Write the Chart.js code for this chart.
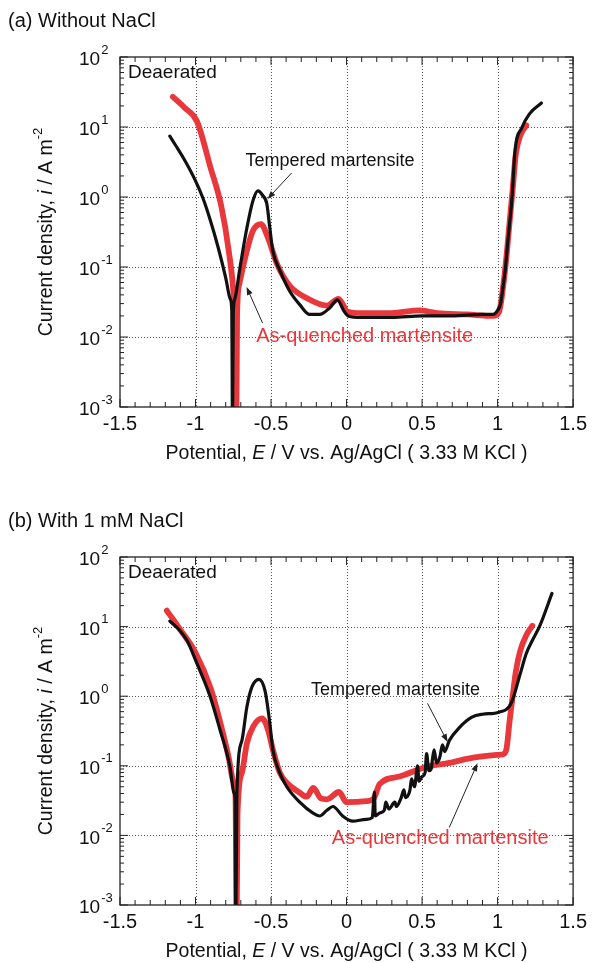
<!DOCTYPE html>
<html>
<head>
<meta charset="utf-8">
<script src="https://cdn.jsdelivr.net/npm/chart.js@4.4.1/dist/chart.umd.min.js"></script>
<style>
  html, body { margin: 0; padding: 0; background: #fff; }
  canvas { display: block; }
</style>
</head>
<body>
<canvas id="chartA" width="592" height="480"></canvas>
<canvas id="chartB" width="592" height="483"></canvas>
<script>
// axis ticks
const xTicks = [-1.5, -1, -0.5, 0, 0.5, 1, 1.5];
const yExponents = [-3, -2, -1, 0, 1, 2];

// (a) without NaCl - tempered martensite (black)
const aTemperedE = [-1.17, -1.13, -1.08, -1.00, -0.95, -0.90, -0.85, -0.80, -0.77, -0.76, -0.755, -0.75, -0.74, -0.706, -0.66, -0.62, -0.587, -0.555, -0.528, -0.508, -0.488, -0.44, -0.376, -0.31, -0.244, -0.178, -0.112, -0.06, -0.02, 0.01, 0.1, 0.3, 0.5, 0.7, 0.9, 0.97, 1.0, 1.02, 1.04, 1.05, 1.07, 1.096, 1.115, 1.16, 1.21, 1.29];
const aTemperedI = [7.4, 5.4, 3.6, 1.7, 0.95, 0.45, 0.19, 0.07, 0.035, 0.024, 0.0005, 0.022, 0.035, 0.097, 0.36, 0.88, 1.22, 1.05, 0.8, 0.36, 0.17, 0.088, 0.045, 0.029, 0.021, 0.021, 0.026, 0.034, 0.024, 0.02, 0.019, 0.019, 0.02, 0.02, 0.021, 0.021, 0.024, 0.03, 0.06, 0.088, 0.26, 1.0, 4.5, 9.7, 15.3, 22];

// (a) without NaCl - as-quenched martensite (red)
const aQuenchedE = [-1.15, -1.07, -0.99, -0.90, -0.83, -0.78, -0.745, -0.735, -0.73, -0.725, -0.71, -0.66, -0.62, -0.567, -0.52, -0.46, -0.376, -0.264, -0.13, -0.053, 0.007, 0.1, 0.3, 0.48, 0.6, 0.8, 0.97, 1.01, 1.04, 1.06, 1.08, 1.10, 1.12, 1.15, 1.19];
const aQuenchedI = [27, 18.7, 12, 2.6, 0.75, 0.17, 0.033, 0.01, 0.0005, 0.02, 0.057, 0.17, 0.33, 0.41, 0.26, 0.11, 0.054, 0.036, 0.028, 0.035, 0.023, 0.022, 0.022, 0.024, 0.022, 0.021, 0.02, 0.023, 0.06, 0.15, 0.45, 1.3, 4.0, 7.5, 10.6];

// (b) with 1 mM NaCl - tempered martensite (black)
const bTemperedE = [-1.17, -1.10, -1.056, -1.00, -0.904, -0.838, -0.772, -0.746, -0.738, -0.733, -0.726, -0.693, -0.66, -0.627, -0.58, -0.54, -0.508, -0.488, -0.442, -0.396, -0.31, -0.224, -0.178, -0.13, -0.09, -0.026, 0.04, 0.13, 0.17, 0.185, 0.19, 0.22, 0.25, 0.26, 0.28, 0.32, 0.33, 0.36, 0.38, 0.39, 0.42, 0.43, 0.45, 0.47, 0.48, 0.5, 0.52, 0.53, 0.545, 0.56, 0.57, 0.58, 0.595, 0.61, 0.62, 0.635, 0.65, 0.68, 0.75, 0.83, 0.9, 1.01, 1.09, 1.15, 1.19, 1.23, 1.28, 1.36];
const bTemperedI = [12, 8.6, 6.3, 3.3, 1.0, 0.33, 0.097, 0.041, 0.033, 0.0005, 0.04, 0.23, 0.7, 1.35, 1.75, 1.2, 0.41, 0.17, 0.079, 0.05, 0.03, 0.021, 0.019, 0.023, 0.026, 0.019, 0.016, 0.017, 0.018, 0.042, 0.019, 0.021, 0.023, 0.03, 0.024, 0.03, 0.026, 0.034, 0.045, 0.035, 0.045, 0.065, 0.05, 0.1, 0.06, 0.07, 0.08, 0.15, 0.085, 0.09, 0.13, 0.17, 0.11, 0.12, 0.14, 0.2, 0.16, 0.23, 0.36, 0.5, 0.55, 0.59, 0.79, 2.1, 4.1, 6.3, 10.3, 30];

// (b) with 1 mM NaCl - as-quenched martensite (red)
const bQuenchedE = [-1.19, -1.10, -1.00, -0.90, -0.84, -0.78, -0.75, -0.735, -0.728, -0.722, -0.693, -0.66, -0.62, -0.56, -0.52, -0.488, -0.442, -0.396, -0.31, -0.264, -0.22, -0.17, -0.13, -0.05, 0.0, 0.13, 0.18, 0.22, 0.35, 0.53, 0.68, 0.83, 1.01, 1.045, 1.06, 1.08, 1.10, 1.12, 1.15, 1.19, 1.23];
const bQuenchedI = [17, 9, 4.2, 1.3, 0.45, 0.13, 0.06, 0.035, 0.0005, 0.02, 0.079, 0.21, 0.36, 0.48, 0.33, 0.17, 0.08, 0.057, 0.041, 0.036, 0.048, 0.034, 0.033, 0.042, 0.03, 0.031, 0.034, 0.055, 0.07, 0.097, 0.11, 0.13, 0.144, 0.15, 0.18, 0.45, 1.0, 2.2, 4.5, 7.5, 10.3];

const FONT = '"Liberation Sans", Arial, sans-serif';
const BLACK = '#111111';
const RED = '#e8383c';
Chart.defaults.font.family = FONT;

function toPoints(es, is) {
  return es.map((e, k) => ({ x: e, y: is[k] }));
}

function drawRich(ctx, parts, x, y, size) {
  const fontOf = p => (p.italic ? 'italic ' : '') + (p.sup ? Math.round(size * 0.65) : size) + 'px ' + FONT;
  const widths = parts.map(p => { ctx.font = fontOf(p); return ctx.measureText(p.t).width; });
  let cx = x - widths.reduce((s, w) => s + w, 0) / 2;
  parts.forEach((p, k) => {
    ctx.font = fontOf(p);
    ctx.fillText(p.t, cx, p.sup ? y - size * 0.45 : y);
    cx += widths[k];
  });
}

function drawArrow(ctx, x0, y0, x1, y1) {
  const ang = Math.atan2(y1 - y0, x1 - x0);
  ctx.beginPath();
  ctx.moveTo(x0, y0);
  ctx.lineTo(x1 - 6 * Math.cos(ang), y1 - 6 * Math.sin(ang));
  ctx.stroke();
  ctx.beginPath();
  ctx.moveTo(x1, y1);
  ctx.lineTo(x1 - 8 * Math.cos(ang) + 3 * Math.sin(ang), y1 - 8 * Math.sin(ang) - 3 * Math.cos(ang));
  ctx.lineTo(x1 - 8 * Math.cos(ang) - 3 * Math.sin(ang), y1 - 8 * Math.sin(ang) + 3 * Math.cos(ang));
  ctx.closePath();
  ctx.fill();
}

const panelPlugin = {
  id: 'panel',
  beforeDatasetsDraw(chart) {
    const { ctx, chartArea: a, scales: { x, y } } = chart;
    ctx.save();
    ctx.strokeStyle = '#555';
    ctx.lineWidth = 1;
    ctx.setLineDash([1, 2]);
    xTicks.slice(1, -1).forEach(v => {
      const px = Math.round(x.getPixelForValue(v)) + 0.5;
      ctx.beginPath(); ctx.moveTo(px, a.top); ctx.lineTo(px, a.bottom); ctx.stroke();
    });
    yExponents.slice(1, -1).forEach(e => {
      const py = Math.round(y.getPixelForValue(Math.pow(10, e))) + 0.5;
      ctx.beginPath(); ctx.moveTo(a.left, py); ctx.lineTo(a.right, py); ctx.stroke();
    });
    ctx.restore();
  },
  afterDatasetsDraw(chart, args, opts) {
    const { ctx, chartArea: a, scales: { x, y } } = chart;
    ctx.save();
    // frame
    ctx.strokeStyle = '#222';
    ctx.lineWidth = 1.3;
    ctx.strokeRect(a.left, a.top, a.right - a.left, a.bottom - a.top);
    // inward ticks
    ctx.lineWidth = 1;
    ctx.beginPath();
    for (let k = -15; k <= 15; k++) {
      const px = x.getPixelForValue(k / 10);
      const len = k % 5 === 0 ? 8 : 5;
      ctx.moveTo(px, a.bottom); ctx.lineTo(px, a.bottom - len);
      ctx.moveTo(px, a.top); ctx.lineTo(px, a.top + len);
    }
    for (let e = -3; e <= 2; e++) {
      for (let m = 1; m <= (e === 2 ? 1 : 9); m++) {
        const py = y.getPixelForValue(m * Math.pow(10, e));
        const len = m === 1 ? 8 : 4;
        ctx.moveTo(a.left, py); ctx.lineTo(a.left + len, py);
        ctx.moveTo(a.right, py); ctx.lineTo(a.right - len, py);
      }
    }
    ctx.stroke();

    ctx.fillStyle = '#111';
    ctx.textBaseline = 'middle';
    // y tick labels 10^n
    yExponents.forEach(e => {
      const py = y.getPixelForValue(Math.pow(10, e));
      ctx.font = '19px ' + FONT;
      ctx.textAlign = 'left';
      ctx.fillText('10', 79, py + 3);
      const w = ctx.measureText('10').width;
      ctx.font = '13px ' + FONT;
      ctx.fillText(String(e), 80 + w, py - 7);
    });

    // panel title
    ctx.font = '20px ' + FONT;
    ctx.fillText(opts.title, 8, opts.titleY);

    // Deaerated
    ctx.font = '19px ' + FONT;
    ctx.fillText('Deaerated', a.left + 8, a.top + 16);

    // x axis title
    drawRich(ctx, [
      { t: 'Potential, ' }, { t: 'E', italic: true }, { t: ' / V vs. Ag/AgCl ( 3.33 M KCl )' }
    ], (a.left + a.right) / 2, a.bottom + 47, 19.5);

    // y axis title
    ctx.save();
    ctx.translate(47, (a.top + a.bottom) / 2);
    ctx.rotate(-Math.PI / 2);
    drawRich(ctx, [
      { t: 'Current density, ' }, { t: 'i', italic: true }, { t: ' / A m' }, { t: '-2', sup: true }
    ], 0, 0, 19.5);
    ctx.restore();

    // annotations
    opts.notes.forEach(n => {
      ctx.fillStyle = n.color;
      ctx.font = n.size + 'px ' + FONT;
      ctx.textAlign = 'center';
      ctx.fillText(n.text, x.getPixelForValue(n.at[0]), y.getPixelForValue(n.at[1]));
      ctx.strokeStyle = '#222';
      ctx.fillStyle = '#222';
      ctx.lineWidth = 1;
      drawArrow(ctx,
        x.getPixelForValue(n.from[0]), y.getPixelForValue(n.from[1]),
        x.getPixelForValue(n.to[0]), y.getPixelForValue(n.to[1]));
    });
    ctx.restore();
  }
};

function buildChart(id, tempE, tempI, quenchE, quenchI, panel) {
  return new Chart(document.getElementById(id), {
    type: 'scatter',
    data: {
      datasets: [
        {
          label: 'Tempered martensite',
          data: toPoints(tempE, tempI),
          showLine: true,
          borderColor: BLACK,
          borderWidth: 3.2,
          clip: 0
        },
        {
          label: 'As-quenched martensite',
          data: toPoints(quenchE, quenchI),
          showLine: true,
          borderColor: RED,
          borderWidth: 5.8,
          clip: 0
        }
      ]
    },
    options: {
      responsive: false,
      animation: false,
      elements: {
        point: { radius: 0, hoverRadius: 0 },
        line: { cubicInterpolationMode: 'monotone', borderCapStyle: 'round', borderJoinStyle: 'round' }
      },
      layout: { padding: { top: panel.top, right: 18, bottom: panel.bottom, left: 0 } },
      plugins: {
        legend: { display: false },
        tooltip: { enabled: false },
        panel: panel
      },
      scales: {
        x: {
          type: 'linear',
          min: -1.5,
          max: 1.5,
          ticks: { stepSize: 0.5, callback: v => String(v), font: { size: 20 }, color: '#111', padding: 5, maxRotation: 0 },
          grid: { display: false, drawTicks: false },
          border: { display: false },
          afterFit: s => { s.height = 40; }
        },
        y: {
          type: 'logarithmic',
          min: 1e-3,
          max: 1e2,
          ticks: { display: false },
          grid: { display: false, drawTicks: false },
          border: { display: false },
          afterFit: s => { s.width = 120; }
        }
      }
    },
    plugins: [panelPlugin]
  });
}

buildChart('chartA', aTemperedE, aTemperedI, aQuenchedE, aQuenchedI, {
  title: '(a) Without NaCl',
  titleY: 21,
  top: 57,
  bottom: 33,
  notes: [
    { text: 'Tempered martensite', color: BLACK, size: 18, at: [-0.11, 3.3], from: [-0.364, 2.2], to: [-0.523, 0.94] },
    { text: 'As-quenched martensite', color: RED, size: 20, at: [0.12, 0.0103], from: [-0.556, 0.0158], to: [-0.662, 0.0518] }
  ]
});

buildChart('chartB', bTemperedE, bTemperedI, bQuenchedE, bQuenchedI, {
  title: '(b) With 1 mM NaCl',
  titleY: 41,
  top: 77,
  bottom: 18,
  notes: [
    { text: 'Tempered martensite', color: BLACK, size: 18, at: [0.324, 1.22], from: [0.536, 0.79], to: [0.669, 0.22] },
    { text: 'As-quenched martensite', color: RED, size: 20, at: [0.62, 0.0091], from: [0.68, 0.013], to: [0.867, 0.109] }
  ]
});
</script>
</body>
</html>
